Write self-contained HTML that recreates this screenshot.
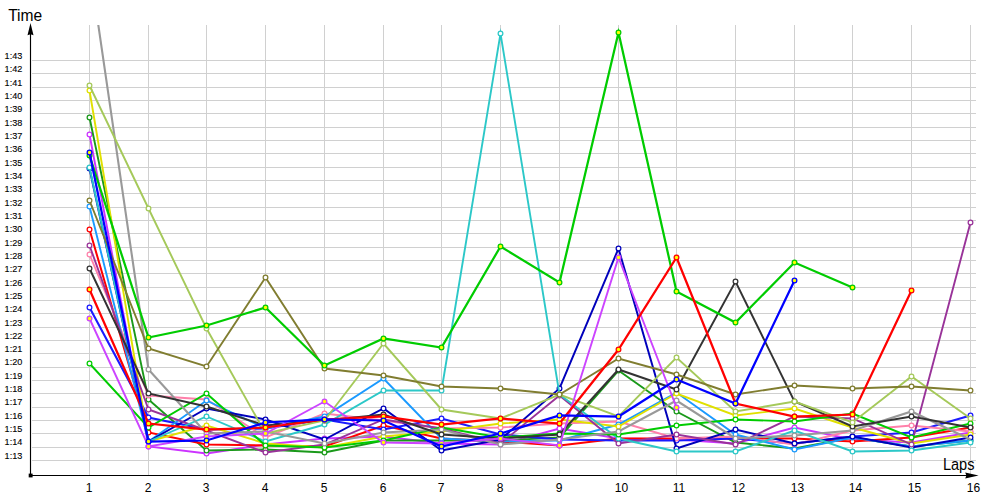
<!DOCTYPE html>
<html><head><meta charset="utf-8"><title>Lap times</title>
<style>
html,body{margin:0;padding:0;background:#fff;}
body{width:1000px;height:500px;overflow:hidden;font-family:"Liberation Sans",sans-serif;}
svg{display:block}
text{font-family:"Liberation Sans",sans-serif;fill:#000}
</style></head><body>
<svg width="1000" height="500" viewBox="0 0 1000 500">
<defs><clipPath id="plot"><rect x="25" y="25" width="960" height="455"/></clipPath></defs>
<rect width="1000" height="500" fill="#fff"/>

<g stroke="#d0d0d0" stroke-width="1" fill="none" shape-rendering="crispEdges">
<line x1="32" y1="460.5" x2="976" y2="460.5"/>
<line x1="32" y1="447.5" x2="976" y2="447.5"/>
<line x1="32" y1="433.5" x2="976" y2="433.5"/>
<line x1="32" y1="420.5" x2="976" y2="420.5"/>
<line x1="32" y1="407.5" x2="976" y2="407.5"/>
<line x1="32" y1="393.5" x2="976" y2="393.5"/>
<line x1="32" y1="380.5" x2="976" y2="380.5"/>
<line x1="32" y1="367.5" x2="976" y2="367.5"/>
<line x1="32" y1="353.5" x2="976" y2="353.5"/>
<line x1="32" y1="340.5" x2="976" y2="340.5"/>
<line x1="32" y1="327.5" x2="976" y2="327.5"/>
<line x1="32" y1="313.5" x2="976" y2="313.5"/>
<line x1="32" y1="300.5" x2="976" y2="300.5"/>
<line x1="32" y1="287.5" x2="976" y2="287.5"/>
<line x1="32" y1="273.5" x2="976" y2="273.5"/>
<line x1="32" y1="260.5" x2="976" y2="260.5"/>
<line x1="32" y1="247.5" x2="976" y2="247.5"/>
<line x1="32" y1="233.5" x2="976" y2="233.5"/>
<line x1="32" y1="220.5" x2="976" y2="220.5"/>
<line x1="32" y1="207.5" x2="976" y2="207.5"/>
<line x1="32" y1="193.5" x2="976" y2="193.5"/>
<line x1="32" y1="180.5" x2="976" y2="180.5"/>
<line x1="32" y1="167.5" x2="976" y2="167.5"/>
<line x1="32" y1="153.5" x2="976" y2="153.5"/>
<line x1="32" y1="140.5" x2="976" y2="140.5"/>
<line x1="32" y1="127.5" x2="976" y2="127.5"/>
<line x1="32" y1="113.5" x2="976" y2="113.5"/>
<line x1="32" y1="100.5" x2="976" y2="100.5"/>
<line x1="32" y1="87.5" x2="976" y2="87.5"/>
<line x1="32" y1="73.5" x2="976" y2="73.5"/>
<line x1="32" y1="60.5" x2="976" y2="60.5"/>
<line x1="89.5" y1="25" x2="89.5" y2="475"/>
<line x1="148.5" y1="25" x2="148.5" y2="475"/>
<line x1="206.5" y1="25" x2="206.5" y2="475"/>
<line x1="265.5" y1="25" x2="265.5" y2="475"/>
<line x1="324.5" y1="25" x2="324.5" y2="475"/>
<line x1="383.5" y1="25" x2="383.5" y2="475"/>
<line x1="441.5" y1="25" x2="441.5" y2="475"/>
<line x1="500.5" y1="25" x2="500.5" y2="475"/>
<line x1="559.5" y1="25" x2="559.5" y2="475"/>
<line x1="618.5" y1="25" x2="618.5" y2="475"/>
<line x1="676.5" y1="25" x2="676.5" y2="475"/>
<line x1="735.5" y1="25" x2="735.5" y2="475"/>
<line x1="794.5" y1="25" x2="794.5" y2="475"/>
<line x1="852.5" y1="25" x2="852.5" y2="475"/>
<line x1="911.5" y1="25" x2="911.5" y2="475"/>
<line x1="970.5" y1="25" x2="970.5" y2="475"/>
</g>
<g clip-path="url(#plot)" fill="none" stroke-linejoin="miter" stroke-miterlimit="10" stroke-linecap="butt">
<polyline points="89.50,134.50 148.50,446.50 206.50,453.50 265.50,444.50 324.50,438.50 383.50,436.50 441.50,443.50 500.50,444.50 559.50,428.50 618.50,438.50 676.50,439.50 735.50,443.50 794.50,427.50 852.50,439.50 911.50,442.50 970.50,432.50" stroke="#cc33ff" stroke-width="1.9"/>
<g fill="#ffffff" stroke="#cc33ff" stroke-width="1.25">
<circle cx="89.50" cy="134.50" r="2.35"/>
<circle cx="148.50" cy="446.50" r="2.35"/>
<circle cx="206.50" cy="453.50" r="2.35"/>
<circle cx="265.50" cy="444.50" r="2.35"/>
<circle cx="324.50" cy="438.50" r="2.35"/>
<circle cx="383.50" cy="436.50" r="2.35"/>
<circle cx="441.50" cy="443.50" r="2.35"/>
<circle cx="500.50" cy="444.50" r="2.35"/>
<circle cx="559.50" cy="428.50" r="2.35"/>
<circle cx="618.50" cy="438.50" r="2.35"/>
<circle cx="676.50" cy="439.50" r="2.35"/>
<circle cx="735.50" cy="443.50" r="2.35"/>
<circle cx="794.50" cy="427.50" r="2.35"/>
<circle cx="852.50" cy="439.50" r="2.35"/>
<circle cx="911.50" cy="442.50" r="2.35"/>
<circle cx="970.50" cy="432.50" r="2.35"/>
</g>
<polyline points="89.50,117.50 148.50,399.50 206.50,450.50 265.50,449.50 324.50,452.50 383.50,440.50 441.50,440.50 500.50,440.50 559.50,437.50 618.50,370.50 676.50,411.50 735.50,442.50 794.50,448.50 852.50,437.50 911.50,446.50 970.50,440.50" stroke="#1a991a" stroke-width="1.9"/>
<g fill="#ffffff" stroke="#1a991a" stroke-width="1.25">
<circle cx="89.50" cy="117.50" r="2.35"/>
<circle cx="148.50" cy="399.50" r="2.35"/>
<circle cx="206.50" cy="450.50" r="2.35"/>
<circle cx="265.50" cy="449.50" r="2.35"/>
<circle cx="324.50" cy="452.50" r="2.35"/>
<circle cx="383.50" cy="440.50" r="2.35"/>
<circle cx="441.50" cy="440.50" r="2.35"/>
<circle cx="500.50" cy="440.50" r="2.35"/>
<circle cx="559.50" cy="437.50" r="2.35"/>
<circle cx="618.50" cy="370.50" r="2.35"/>
<circle cx="676.50" cy="411.50" r="2.35"/>
<circle cx="735.50" cy="442.50" r="2.35"/>
<circle cx="794.50" cy="448.50" r="2.35"/>
<circle cx="852.50" cy="437.50" r="2.35"/>
<circle cx="911.50" cy="446.50" r="2.35"/>
<circle cx="970.50" cy="440.50" r="2.35"/>
</g>
<polyline points="89.50,229.50 148.50,432.50 206.50,444.50 265.50,445.50 324.50,446.50 383.50,425.50 441.50,438.50 500.50,441.50 559.50,445.50 618.50,438.50 676.50,438.50 735.50,438.50 794.50,438.50 852.50,441.50 911.50,437.50 970.50,427.50" stroke="#ff0000" stroke-width="2.0"/>
<g fill="#ffffff" stroke="#ff0000" stroke-width="1.25">
<circle cx="89.50" cy="229.50" r="2.35"/>
<circle cx="148.50" cy="432.50" r="2.35"/>
<circle cx="206.50" cy="444.50" r="2.35"/>
<circle cx="265.50" cy="445.50" r="2.35"/>
<circle cx="324.50" cy="446.50" r="2.35"/>
<circle cx="383.50" cy="425.50" r="2.35"/>
<circle cx="441.50" cy="438.50" r="2.35"/>
<circle cx="500.50" cy="441.50" r="2.35"/>
<circle cx="559.50" cy="445.50" r="2.35"/>
<circle cx="618.50" cy="438.50" r="2.35"/>
<circle cx="676.50" cy="438.50" r="2.35"/>
<circle cx="735.50" cy="438.50" r="2.35"/>
<circle cx="794.50" cy="438.50" r="2.35"/>
<circle cx="852.50" cy="441.50" r="2.35"/>
<circle cx="911.50" cy="437.50" r="2.35"/>
<circle cx="970.50" cy="427.50" r="2.35"/>
</g>
<polyline points="89.50,307.50 148.50,417.50 206.50,429.50 265.50,428.50 324.50,419.50 383.50,429.50 441.50,418.50 500.50,434.50 559.50,439.50 618.50,440.50 676.50,440.50 735.50,438.50 794.50,443.50 852.50,436.50 911.50,432.50 970.50,415.50" stroke="#1a1aff" stroke-width="2.1"/>
<g fill="#ffffff" stroke="#1a1aff" stroke-width="1.25">
<circle cx="89.50" cy="307.50" r="2.35"/>
<circle cx="148.50" cy="417.50" r="2.35"/>
<circle cx="206.50" cy="429.50" r="2.35"/>
<circle cx="265.50" cy="428.50" r="2.35"/>
<circle cx="324.50" cy="419.50" r="2.35"/>
<circle cx="383.50" cy="429.50" r="2.35"/>
<circle cx="441.50" cy="418.50" r="2.35"/>
<circle cx="500.50" cy="434.50" r="2.35"/>
<circle cx="559.50" cy="439.50" r="2.35"/>
<circle cx="618.50" cy="440.50" r="2.35"/>
<circle cx="676.50" cy="440.50" r="2.35"/>
<circle cx="735.50" cy="438.50" r="2.35"/>
<circle cx="794.50" cy="443.50" r="2.35"/>
<circle cx="852.50" cy="436.50" r="2.35"/>
<circle cx="911.50" cy="432.50" r="2.35"/>
<circle cx="970.50" cy="415.50" r="2.35"/>
</g>
<polyline points="89.50,254.50 148.50,395.50 206.50,399.50 265.50,437.50 324.50,413.50 383.50,420.50 441.50,428.50 500.50,427.50 559.50,423.50 618.50,421.50 676.50,438.50 735.50,436.50 794.50,444.50 852.50,430.50 911.50,425.50 970.50,431.50" stroke="#ff80aa" stroke-width="1.9"/>
<g fill="#ffffff" stroke="#ff80aa" stroke-width="1.25">
<circle cx="89.50" cy="254.50" r="2.35"/>
<circle cx="148.50" cy="395.50" r="2.35"/>
<circle cx="206.50" cy="399.50" r="2.35"/>
<circle cx="265.50" cy="437.50" r="2.35"/>
<circle cx="324.50" cy="413.50" r="2.35"/>
<circle cx="383.50" cy="420.50" r="2.35"/>
<circle cx="441.50" cy="428.50" r="2.35"/>
<circle cx="500.50" cy="427.50" r="2.35"/>
<circle cx="559.50" cy="423.50" r="2.35"/>
<circle cx="618.50" cy="421.50" r="2.35"/>
<circle cx="676.50" cy="438.50" r="2.35"/>
<circle cx="735.50" cy="436.50" r="2.35"/>
<circle cx="794.50" cy="444.50" r="2.35"/>
<circle cx="852.50" cy="430.50" r="2.35"/>
<circle cx="911.50" cy="425.50" r="2.35"/>
<circle cx="970.50" cy="431.50" r="2.35"/>
</g>
<polyline points="89.50,206.50 148.50,441.50 206.50,400.50 265.50,428.50 324.50,416.50 383.50,378.50 441.50,438.50 500.50,441.50 559.50,440.50 618.50,424.50 676.50,392.50 735.50,434.50 794.50,449.50 852.50,437.50 911.50,446.50 970.50,440.50" stroke="#1a9aff" stroke-width="1.9"/>
<g fill="#ffffff" stroke="#1a9aff" stroke-width="1.25">
<circle cx="89.50" cy="206.50" r="2.35"/>
<circle cx="148.50" cy="441.50" r="2.35"/>
<circle cx="206.50" cy="400.50" r="2.35"/>
<circle cx="265.50" cy="428.50" r="2.35"/>
<circle cx="324.50" cy="416.50" r="2.35"/>
<circle cx="383.50" cy="378.50" r="2.35"/>
<circle cx="441.50" cy="438.50" r="2.35"/>
<circle cx="500.50" cy="441.50" r="2.35"/>
<circle cx="559.50" cy="440.50" r="2.35"/>
<circle cx="618.50" cy="424.50" r="2.35"/>
<circle cx="676.50" cy="392.50" r="2.35"/>
<circle cx="735.50" cy="434.50" r="2.35"/>
<circle cx="794.50" cy="449.50" r="2.35"/>
<circle cx="852.50" cy="437.50" r="2.35"/>
<circle cx="911.50" cy="446.50" r="2.35"/>
<circle cx="970.50" cy="440.50" r="2.35"/>
</g>
<polyline points="89.50,90.50 148.50,441.50 206.50,425.50 265.50,443.50 324.50,447.50 383.50,436.50 441.50,431.50 500.50,423.50 559.50,419.50 618.50,426.50 676.50,393.50 735.50,415.50 794.50,408.50 852.50,427.50 911.50,443.50 970.50,434.50" stroke="#e0e000" stroke-width="1.9"/>
<g fill="#ffffff" stroke="#e0e000" stroke-width="1.25">
<circle cx="89.50" cy="90.50" r="2.35"/>
<circle cx="148.50" cy="441.50" r="2.35"/>
<circle cx="206.50" cy="425.50" r="2.35"/>
<circle cx="265.50" cy="443.50" r="2.35"/>
<circle cx="324.50" cy="447.50" r="2.35"/>
<circle cx="383.50" cy="436.50" r="2.35"/>
<circle cx="441.50" cy="431.50" r="2.35"/>
<circle cx="500.50" cy="423.50" r="2.35"/>
<circle cx="559.50" cy="419.50" r="2.35"/>
<circle cx="618.50" cy="426.50" r="2.35"/>
<circle cx="676.50" cy="393.50" r="2.35"/>
<circle cx="735.50" cy="415.50" r="2.35"/>
<circle cx="794.50" cy="408.50" r="2.35"/>
<circle cx="852.50" cy="427.50" r="2.35"/>
<circle cx="911.50" cy="443.50" r="2.35"/>
<circle cx="970.50" cy="434.50" r="2.35"/>
</g>
<polyline points="89.50,168.50 148.50,441.50 206.50,408.50 265.50,419.50 324.50,439.50 383.50,408.50 441.50,450.50 500.50,439.50 559.50,388.50 618.50,248.50 676.50,448.50 735.50,429.50 794.50,443.50 852.50,436.50 911.50,447.50 970.50,437.50" stroke="#0000bb" stroke-width="1.95"/>
<g fill="#ffffff" stroke="#0000bb" stroke-width="1.25">
<circle cx="89.50" cy="168.50" r="2.35"/>
<circle cx="148.50" cy="441.50" r="2.35"/>
<circle cx="206.50" cy="408.50" r="2.35"/>
<circle cx="265.50" cy="419.50" r="2.35"/>
<circle cx="324.50" cy="439.50" r="2.35"/>
<circle cx="383.50" cy="408.50" r="2.35"/>
<circle cx="441.50" cy="450.50" r="2.35"/>
<circle cx="500.50" cy="439.50" r="2.35"/>
<circle cx="559.50" cy="388.50" r="2.35"/>
<circle cx="618.50" cy="248.50" r="2.35"/>
<circle cx="676.50" cy="448.50" r="2.35"/>
<circle cx="735.50" cy="429.50" r="2.35"/>
<circle cx="794.50" cy="443.50" r="2.35"/>
<circle cx="852.50" cy="436.50" r="2.35"/>
<circle cx="911.50" cy="447.50" r="2.35"/>
<circle cx="970.50" cy="437.50" r="2.35"/>
</g>
<polyline points="89.50,245.50 148.50,409.50 206.50,430.50 265.50,452.50 324.50,444.50 383.50,419.50 441.50,428.50 500.50,443.50 559.50,395.50 618.50,443.50 676.50,434.50 735.50,444.50 794.50,416.50 852.50,418.50 911.50,444.50 970.50,222.50" stroke="#993399" stroke-width="1.9"/>
<g fill="#ffffff" stroke="#993399" stroke-width="1.25">
<circle cx="89.50" cy="245.50" r="2.35"/>
<circle cx="148.50" cy="409.50" r="2.35"/>
<circle cx="206.50" cy="430.50" r="2.35"/>
<circle cx="265.50" cy="452.50" r="2.35"/>
<circle cx="324.50" cy="444.50" r="2.35"/>
<circle cx="383.50" cy="419.50" r="2.35"/>
<circle cx="441.50" cy="428.50" r="2.35"/>
<circle cx="500.50" cy="443.50" r="2.35"/>
<circle cx="559.50" cy="395.50" r="2.35"/>
<circle cx="618.50" cy="443.50" r="2.35"/>
<circle cx="676.50" cy="434.50" r="2.35"/>
<circle cx="735.50" cy="444.50" r="2.35"/>
<circle cx="794.50" cy="416.50" r="2.35"/>
<circle cx="852.50" cy="418.50" r="2.35"/>
<circle cx="911.50" cy="444.50" r="2.35"/>
<circle cx="970.50" cy="222.50" r="2.35"/>
</g>
<polyline points="89.50,167.50 148.50,441.50 206.50,416.50 265.50,441.50 324.50,424.50 383.50,390.50 441.50,390.50 500.50,33.50 559.50,394.50 618.50,438.50 676.50,451.50 735.50,451.50 794.50,430.50 852.50,451.50 911.50,450.50 970.50,442.50" stroke="#2cc8c8" stroke-width="1.9"/>
<g fill="#ffffff" stroke="#2cc8c8" stroke-width="1.25">
<circle cx="89.50" cy="167.50" r="2.35"/>
<circle cx="148.50" cy="441.50" r="2.35"/>
<circle cx="206.50" cy="416.50" r="2.35"/>
<circle cx="265.50" cy="441.50" r="2.35"/>
<circle cx="324.50" cy="424.50" r="2.35"/>
<circle cx="383.50" cy="390.50" r="2.35"/>
<circle cx="441.50" cy="390.50" r="2.35"/>
<circle cx="500.50" cy="33.50" r="2.35"/>
<circle cx="559.50" cy="394.50" r="2.35"/>
<circle cx="618.50" cy="438.50" r="2.35"/>
<circle cx="676.50" cy="451.50" r="2.35"/>
<circle cx="735.50" cy="451.50" r="2.35"/>
<circle cx="794.50" cy="430.50" r="2.35"/>
<circle cx="852.50" cy="451.50" r="2.35"/>
<circle cx="911.50" cy="450.50" r="2.35"/>
<circle cx="970.50" cy="442.50" r="2.35"/>
</g>
<polyline points="89.50,363.50 148.50,427.50 206.50,393.50 265.50,445.50 324.50,447.50 383.50,440.50 441.50,427.50 500.50,437.50 559.50,433.50 618.50,434.50 676.50,425.50 735.50,419.50 794.50,421.50 852.50,413.50 911.50,437.50 970.50,423.50" stroke="#00cc00" stroke-width="1.9"/>
<g fill="#ffffff" stroke="#00cc00" stroke-width="1.25">
<circle cx="89.50" cy="363.50" r="2.35"/>
<circle cx="148.50" cy="427.50" r="2.35"/>
<circle cx="206.50" cy="393.50" r="2.35"/>
<circle cx="265.50" cy="445.50" r="2.35"/>
<circle cx="324.50" cy="447.50" r="2.35"/>
<circle cx="383.50" cy="440.50" r="2.35"/>
<circle cx="441.50" cy="427.50" r="2.35"/>
<circle cx="500.50" cy="437.50" r="2.35"/>
<circle cx="559.50" cy="433.50" r="2.35"/>
<circle cx="618.50" cy="434.50" r="2.35"/>
<circle cx="676.50" cy="425.50" r="2.35"/>
<circle cx="735.50" cy="419.50" r="2.35"/>
<circle cx="794.50" cy="421.50" r="2.35"/>
<circle cx="852.50" cy="413.50" r="2.35"/>
<circle cx="911.50" cy="437.50" r="2.35"/>
<circle cx="970.50" cy="423.50" r="2.35"/>
</g>
<polyline points="89.50,-35.50 148.50,369.50 206.50,433.50 265.50,431.50 324.50,443.50 383.50,432.50 441.50,429.50 500.50,444.50 559.50,439.50 618.50,431.50 676.50,400.50 735.50,438.50 794.50,435.50 852.50,430.50 911.50,411.50 970.50,439.50" stroke="#999999" stroke-width="2.1"/>
<g fill="#ffffff" stroke="#999999" stroke-width="1.25">
<circle cx="148.50" cy="369.50" r="2.35"/>
<circle cx="206.50" cy="433.50" r="2.35"/>
<circle cx="265.50" cy="431.50" r="2.35"/>
<circle cx="324.50" cy="443.50" r="2.35"/>
<circle cx="383.50" cy="432.50" r="2.35"/>
<circle cx="441.50" cy="429.50" r="2.35"/>
<circle cx="500.50" cy="444.50" r="2.35"/>
<circle cx="559.50" cy="439.50" r="2.35"/>
<circle cx="618.50" cy="431.50" r="2.35"/>
<circle cx="676.50" cy="400.50" r="2.35"/>
<circle cx="735.50" cy="438.50" r="2.35"/>
<circle cx="794.50" cy="435.50" r="2.35"/>
<circle cx="852.50" cy="430.50" r="2.35"/>
<circle cx="911.50" cy="411.50" r="2.35"/>
</g>
<polyline points="89.50,268.50 148.50,393.50 206.50,406.50 265.50,425.50 324.50,420.50 383.50,414.50 441.50,434.50 500.50,438.50 559.50,434.50 618.50,369.50 676.50,389.50 735.50,281.50 794.50,401.50 852.50,426.50 911.50,416.50 970.50,427.50" stroke="#333333" stroke-width="1.95"/>
<g fill="#ffffff" stroke="#333333" stroke-width="1.25">
<circle cx="89.50" cy="268.50" r="2.35"/>
<circle cx="148.50" cy="393.50" r="2.35"/>
<circle cx="206.50" cy="406.50" r="2.35"/>
<circle cx="265.50" cy="425.50" r="2.35"/>
<circle cx="324.50" cy="420.50" r="2.35"/>
<circle cx="383.50" cy="414.50" r="2.35"/>
<circle cx="441.50" cy="434.50" r="2.35"/>
<circle cx="500.50" cy="438.50" r="2.35"/>
<circle cx="559.50" cy="434.50" r="2.35"/>
<circle cx="618.50" cy="369.50" r="2.35"/>
<circle cx="676.50" cy="389.50" r="2.35"/>
<circle cx="735.50" cy="281.50" r="2.35"/>
<circle cx="794.50" cy="401.50" r="2.35"/>
<circle cx="852.50" cy="426.50" r="2.35"/>
<circle cx="911.50" cy="416.50" r="2.35"/>
<circle cx="970.50" cy="427.50" r="2.35"/>
</g>
<polyline points="89.50,85.50 148.50,208.50 206.50,328.50 265.50,433.50 324.50,420.50 383.50,343.50 441.50,409.50 500.50,418.50 559.50,394.50 618.50,416.50 676.50,357.50 735.50,411.50 794.50,401.50 852.50,422.50 911.50,376.50 970.50,418.50" stroke="#a5c95a" stroke-width="1.9"/>
<g fill="#ffffff" stroke="#a5c95a" stroke-width="1.25">
<circle cx="89.50" cy="85.50" r="2.35"/>
<circle cx="148.50" cy="208.50" r="2.35"/>
<circle cx="206.50" cy="328.50" r="2.35"/>
<circle cx="265.50" cy="433.50" r="2.35"/>
<circle cx="324.50" cy="420.50" r="2.35"/>
<circle cx="383.50" cy="343.50" r="2.35"/>
<circle cx="441.50" cy="409.50" r="2.35"/>
<circle cx="500.50" cy="418.50" r="2.35"/>
<circle cx="559.50" cy="394.50" r="2.35"/>
<circle cx="618.50" cy="416.50" r="2.35"/>
<circle cx="676.50" cy="357.50" r="2.35"/>
<circle cx="735.50" cy="411.50" r="2.35"/>
<circle cx="794.50" cy="401.50" r="2.35"/>
<circle cx="852.50" cy="422.50" r="2.35"/>
<circle cx="911.50" cy="376.50" r="2.35"/>
<circle cx="970.50" cy="418.50" r="2.35"/>
</g>
<polyline points="89.50,200.50 148.50,348.50 206.50,366.50 265.50,277.50 324.50,368.50 383.50,375.50 441.50,386.50 500.50,388.50 559.50,394.50 618.50,358.50 676.50,374.50 735.50,394.50 794.50,385.50 852.50,388.50 911.50,386.50 970.50,390.50" stroke="#807d30" stroke-width="1.9"/>
<g fill="#ffffff" stroke="#807d30" stroke-width="1.25">
<circle cx="89.50" cy="200.50" r="2.35"/>
<circle cx="148.50" cy="348.50" r="2.35"/>
<circle cx="206.50" cy="366.50" r="2.35"/>
<circle cx="265.50" cy="277.50" r="2.35"/>
<circle cx="324.50" cy="368.50" r="2.35"/>
<circle cx="383.50" cy="375.50" r="2.35"/>
<circle cx="441.50" cy="386.50" r="2.35"/>
<circle cx="500.50" cy="388.50" r="2.35"/>
<circle cx="559.50" cy="394.50" r="2.35"/>
<circle cx="618.50" cy="358.50" r="2.35"/>
<circle cx="676.50" cy="374.50" r="2.35"/>
<circle cx="735.50" cy="394.50" r="2.35"/>
<circle cx="794.50" cy="385.50" r="2.35"/>
<circle cx="852.50" cy="388.50" r="2.35"/>
<circle cx="911.50" cy="386.50" r="2.35"/>
<circle cx="970.50" cy="390.50" r="2.35"/>
</g>
<polyline points="89.50,318.50 148.50,446.50 206.50,436.50 265.50,433.50 324.50,401.50 383.50,442.50 441.50,443.50 500.50,438.50 559.50,445.50 618.50,257.50 676.50,407.50" stroke="#cc44ff" stroke-width="1.9"/>
<g fill="#ffff00" stroke="#cc44ff" stroke-width="1.25">
<circle cx="89.50" cy="318.50" r="2.35"/>
<circle cx="148.50" cy="446.50" r="2.35"/>
<circle cx="206.50" cy="436.50" r="2.35"/>
<circle cx="265.50" cy="433.50" r="2.35"/>
<circle cx="324.50" cy="401.50" r="2.35"/>
<circle cx="383.50" cy="442.50" r="2.35"/>
<circle cx="441.50" cy="443.50" r="2.35"/>
<circle cx="500.50" cy="438.50" r="2.35"/>
<circle cx="559.50" cy="445.50" r="2.35"/>
<circle cx="618.50" cy="257.50" r="2.35"/>
<circle cx="676.50" cy="407.50" r="2.35"/>
</g>
<polyline points="89.50,155.50 148.50,337.50 206.50,325.50 265.50,307.50 324.50,365.50 383.50,338.50 441.50,347.50 500.50,246.50 559.50,282.50 618.50,32.50 676.50,291.50 735.50,322.50 794.50,262.50 852.50,287.50" stroke="#00cc00" stroke-width="2.25"/>
<g fill="#ffff00" stroke="#00cc00" stroke-width="1.25">
<circle cx="89.50" cy="155.50" r="2.35"/>
<circle cx="148.50" cy="337.50" r="2.35"/>
<circle cx="206.50" cy="325.50" r="2.35"/>
<circle cx="265.50" cy="307.50" r="2.35"/>
<circle cx="324.50" cy="365.50" r="2.35"/>
<circle cx="383.50" cy="338.50" r="2.35"/>
<circle cx="441.50" cy="347.50" r="2.35"/>
<circle cx="500.50" cy="246.50" r="2.35"/>
<circle cx="559.50" cy="282.50" r="2.35"/>
<circle cx="618.50" cy="32.50" r="2.35"/>
<circle cx="676.50" cy="291.50" r="2.35"/>
<circle cx="735.50" cy="322.50" r="2.35"/>
<circle cx="794.50" cy="262.50" r="2.35"/>
<circle cx="852.50" cy="287.50" r="2.35"/>
</g>
<polyline points="89.50,289.50 148.50,423.50 206.50,429.50 265.50,427.50 324.50,419.50 383.50,416.50 441.50,424.50 500.50,418.50 559.50,423.50 618.50,349.50 676.50,257.50 735.50,403.50 794.50,416.50 852.50,414.50 911.50,290.50" stroke="#ff0000" stroke-width="2.25"/>
<g fill="#ffff00" stroke="#ff0000" stroke-width="1.25">
<circle cx="89.50" cy="289.50" r="2.35"/>
<circle cx="148.50" cy="423.50" r="2.35"/>
<circle cx="206.50" cy="429.50" r="2.35"/>
<circle cx="265.50" cy="427.50" r="2.35"/>
<circle cx="324.50" cy="419.50" r="2.35"/>
<circle cx="383.50" cy="416.50" r="2.35"/>
<circle cx="441.50" cy="424.50" r="2.35"/>
<circle cx="500.50" cy="418.50" r="2.35"/>
<circle cx="559.50" cy="423.50" r="2.35"/>
<circle cx="618.50" cy="349.50" r="2.35"/>
<circle cx="676.50" cy="257.50" r="2.35"/>
<circle cx="735.50" cy="403.50" r="2.35"/>
<circle cx="794.50" cy="416.50" r="2.35"/>
<circle cx="852.50" cy="414.50" r="2.35"/>
<circle cx="911.50" cy="290.50" r="2.35"/>
</g>
<polyline points="89.50,152.50 148.50,441.50 206.50,440.50 265.50,422.50 324.50,419.50 383.50,420.50 441.50,446.50 500.50,433.50 559.50,415.50 618.50,416.50 676.50,379.50 735.50,403.50 794.50,280.50" stroke="#0000ff" stroke-width="2.25"/>
<g fill="#ffff00" stroke="#0000ff" stroke-width="1.25">
<circle cx="89.50" cy="152.50" r="2.35"/>
<circle cx="148.50" cy="441.50" r="2.35"/>
<circle cx="206.50" cy="440.50" r="2.35"/>
<circle cx="265.50" cy="422.50" r="2.35"/>
<circle cx="324.50" cy="419.50" r="2.35"/>
<circle cx="383.50" cy="420.50" r="2.35"/>
<circle cx="441.50" cy="446.50" r="2.35"/>
<circle cx="500.50" cy="433.50" r="2.35"/>
<circle cx="559.50" cy="415.50" r="2.35"/>
<circle cx="618.50" cy="416.50" r="2.35"/>
<circle cx="676.50" cy="379.50" r="2.35"/>
<circle cx="735.50" cy="403.50" r="2.35"/>
<circle cx="794.50" cy="280.50" r="2.35"/>
</g>
</g>
<g stroke="#000" stroke-width="1.15" fill="none">
<line x1="30.5" y1="33" x2="30.5" y2="475.5"/>
<line x1="30.5" y1="475.5" x2="968" y2="475.5"/>
</g>
<path d="M30.5 23.0 L33.5 35.3 L30.5 34.3 L27.5 35.3 Z" fill="#000"/>
<path d="M978.6 475.5 L965.2 478.6 L966.4 475.5 L965.2 472.4 Z" fill="#000"/>
<rect x="28.7" y="473.6" width="3.9" height="3.8" fill="#000"/>
<text x="8.2" y="20.8" font-size="16" textLength="34" lengthAdjust="spacingAndGlyphs">Time</text>
<text x="942.9" y="469.6" font-size="16" textLength="31.6" lengthAdjust="spacingAndGlyphs">Laps</text>
<g font-size="9.1" stroke="#000" stroke-width="0.12">
<text x="4.6" y="458.70">1:13</text>
<text x="4.6" y="445.38">1:14</text>
<text x="4.6" y="432.06">1:15</text>
<text x="4.6" y="418.74">1:16</text>
<text x="4.6" y="405.42">1:17</text>
<text x="4.6" y="392.10">1:18</text>
<text x="4.6" y="378.78">1:19</text>
<text x="4.6" y="365.46">1:20</text>
<text x="4.6" y="352.14">1:21</text>
<text x="4.6" y="338.82">1:22</text>
<text x="4.6" y="325.50">1:23</text>
<text x="4.6" y="312.18">1:24</text>
<text x="4.6" y="298.86">1:25</text>
<text x="4.6" y="285.54">1:26</text>
<text x="4.6" y="272.22">1:27</text>
<text x="4.6" y="258.90">1:28</text>
<text x="4.6" y="245.58">1:29</text>
<text x="4.6" y="232.26">1:30</text>
<text x="4.6" y="218.94">1:31</text>
<text x="4.6" y="205.62">1:32</text>
<text x="4.6" y="192.30">1:33</text>
<text x="4.6" y="178.98">1:34</text>
<text x="4.6" y="165.66">1:35</text>
<text x="4.6" y="152.34">1:36</text>
<text x="4.6" y="139.02">1:37</text>
<text x="4.6" y="125.70">1:38</text>
<text x="4.6" y="112.38">1:39</text>
<text x="4.6" y="99.06">1:40</text>
<text x="4.6" y="85.74">1:41</text>
<text x="4.6" y="72.42">1:42</text>
<text x="4.6" y="59.10">1:43</text>
</g>
<g font-size="12">
<text x="85.80" y="492">1</text>
<text x="144.80" y="492">2</text>
<text x="202.80" y="492">3</text>
<text x="261.80" y="492">4</text>
<text x="320.80" y="492">5</text>
<text x="379.80" y="492">6</text>
<text x="437.80" y="492">7</text>
<text x="496.80" y="492">8</text>
<text x="555.80" y="492">9</text>
<text x="614.80" y="492">10</text>
<text x="672.80" y="492">11</text>
<text x="731.80" y="492">12</text>
<text x="790.80" y="492">13</text>
<text x="848.80" y="492">14</text>
<text x="907.80" y="492">15</text>
<text x="966.80" y="492">16</text>
</g>
</svg></body></html>
